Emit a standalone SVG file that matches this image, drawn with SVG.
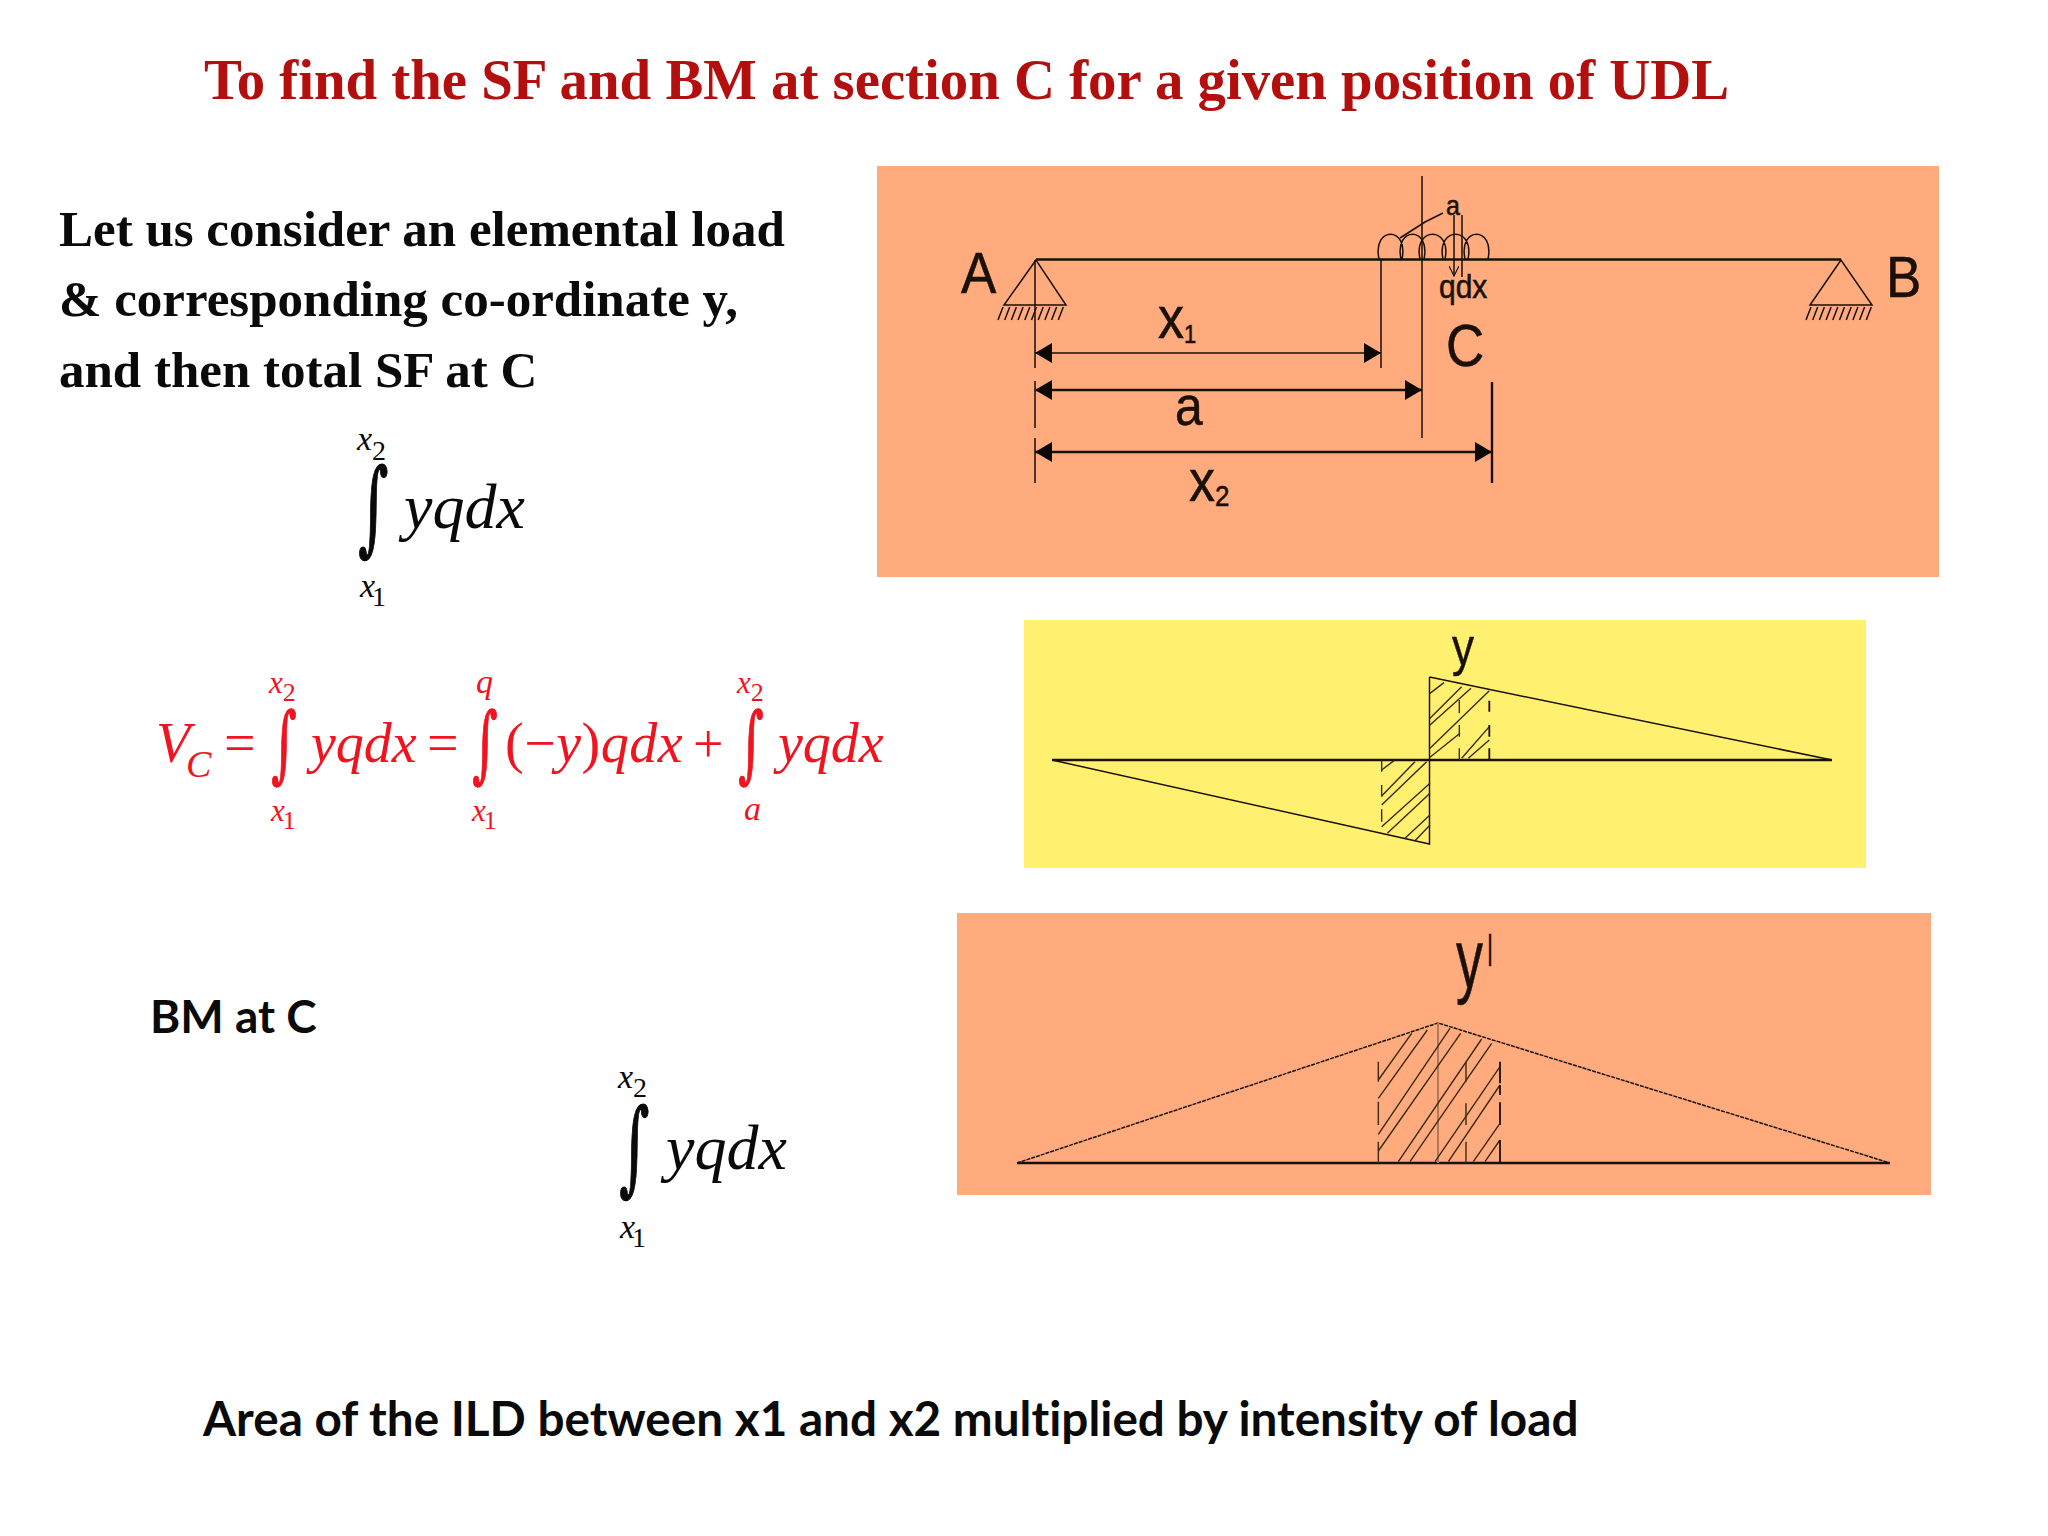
<svg xmlns="http://www.w3.org/2000/svg" width="2048" height="1536" viewBox="0 0 2048 1536">
<style>
.m{font-family:"Liberation Serif",serif;font-style:italic}
.r{font-family:"Liberation Serif",serif}
.i{font-family:"DejaVu Serif",serif}
.s{font-family:"Liberation Sans",sans-serif;fill:#1a1008;stroke:#1a1008;stroke-width:.5}
.red{fill:#f01420}
.lim{font-size:34px}
.sub{font-size:28px;font-style:normal}
.big{font-size:56px}
.big2{font-size:64px}
.b{font-family:"Liberation Serif",serif;font-weight:700;font-size:51px;fill:#0a0a0a}
.c{font-family:Lato,"Open Sans",sans-serif;font-weight:700;fill:#0a0a0a;font-variant-ligatures:none}
.ln{fill:none;stroke:#1a1008;stroke-width:1.5}
.th{fill:none;stroke:#1a1008;stroke-width:2.4}
.ht{fill:none;stroke:#3a2a10;stroke-width:4.200}
.dk{fill:none;stroke:#1a1008;stroke-width:5.500}
</style>
<defs>
<marker id="ah" markerUnits="userSpaceOnUse" markerWidth="18" markerHeight="20" refX="17" refY="10" orient="auto-start-reverse"><path d="M0 0L17 10L0 20z" fill="#0c0804"/></marker>
<marker id="oa" markerUnits="userSpaceOnUse" markerWidth="10" markerHeight="12" refX="5" refY="11" orient="0"><path d="M0 1L5 11L10 1" fill="none" stroke="#1a1008" stroke-width="1.2"/></marker>
</defs>
<rect width="2048" height="1536" fill="#fff"/>
<text id="title" x="204" y="99" font-family="Liberation Serif,serif" font-weight="700" font-size="56.800" fill="#b30f0f">To find the SF and BM at section C for a given position of UDL</text>
<g id="intro">
<text class="b" x="59" y="246">Let us consider an elemental load</text>
<text class="b" x="59" y="316">&amp; corresponding co-ordinate y,</text>
<text class="b" x="59" y="387">and then total SF at C</text>
</g>
<g id="integral-sf" fill="#0a0a0a">
<text class="m lim" x="357" y="450">x<tspan class="sub" dy="10">2</tspan></text>
<text class="i" transform="translate(358 542) scale(.75 1.32)" font-size="78" stroke="#0a0a0a" stroke-width="1">∫</text>
<text class="m big2" x="404" y="528">yqdx</text>
<text class="m lim" x="360" y="597">x<tspan class="sub" dy="9" dx="-3">1</tspan></text>
</g>
<g id="equation-vc" class="red">
<text class="m" x="156" y="762" font-size="56">V</text>
<text class="m" x="186" y="777" font-size="38">C</text>
<text class="r" x="224" y="762" font-size="56">=</text>
<text class="m lim" x="269" y="693" style="font-size:31px">x<tspan class="sub" dy="8" style="font-size:26px">2</tspan></text>
<text class="i" transform="translate(271 772) scale(.65 1.1)" font-size="76" stroke="#f01420" stroke-width="1">∫</text>
<text class="m lim" x="271" y="821" style="font-size:31px">x<tspan class="sub" dy="8" dx="-2" style="font-size:26px">1</tspan></text>
<text class="m big" x="311" y="762">yqdx</text>
<text class="r" x="427" y="762" font-size="56">=</text>
<text class="m lim" x="476" y="693">q</text>
<text class="i" transform="translate(472 772) scale(.65 1.1)" font-size="76" stroke="#f01420" stroke-width="1">∫</text>
<text class="m lim" x="472" y="821" style="font-size:31px">x<tspan class="sub" dy="8" dx="-2" style="font-size:26px">1</tspan></text>
<text class="m big" x="505" y="762" letter-spacing=".5"><tspan font-style="normal">(−</tspan>y<tspan font-style="normal">)</tspan>qdx</text>
<text class="r" x="693" y="762" font-size="54">+</text>
<text class="m lim" x="737" y="693" style="font-size:31px">x<tspan class="sub" dy="8" style="font-size:26px">2</tspan></text>
<text class="i" transform="translate(738 772) scale(.65 1.1)" font-size="76" stroke="#f01420" stroke-width="1">∫</text>
<text class="m lim" x="744" y="820">a</text>
<text class="m big" x="778" y="762">yqdx</text>
</g>
<g id="integral-bm" fill="#0a0a0a">
<text class="m lim" x="618" y="1088">x<tspan class="sub" dy="9">2</tspan></text>
<text class="i" transform="translate(619 1182) scale(.75 1.32)" font-size="78" stroke="#0a0a0a" stroke-width="1">∫</text>
<text class="m big2" x="666" y="1169">yqdx</text>
<text class="m lim" x="620" y="1238">x<tspan class="sub" dy="9" dx="-3">1</tspan></text>
</g>
<text id="bm-label" class="c" x="150" y="1033" font-size="46">BM at C</text>
<text id="conclusion" class="c" x="203" y="1436" font-size="47.700">Area of the ILD between x1 and x2 multiplied by intensity of load</text>

<g id="beam-panel">
<rect x="877" y="166" width="1062" height="411" fill="#ffab7d"/>
<path class="th" d="M1036 259.500H1841"/>
<g id="support-a">
<path class="ln" d="M1036 260L1004 305H1066z"/>
<path class="ln" stroke-width="1.200" d="M998 320l5-13m1.700 13l5-13m1.700 13l5-13m1.700 13l5-13m1.700 13l5-13m1.700 13l5-13m1.700 13l5-13m1.700 13l5-13m1.700 13l5-13m1.700 13l5-13"/>
</g>
<g id="support-b">
<path class="ln" d="M1841 260L1810 305H1872z"/>
<path class="ln" stroke-width="1.200" d="M1806 320l5-13m1.700 13l5-13m1.700 13l5-13m1.700 13l5-13m1.700 13l5-13m1.700 13l5-13m1.700 13l5-13m1.700 13l5-13m1.700 13l5-13m1.700 13l5-13"/>
</g>
<g id="udl">
<path class="ln" stroke-width="1.200" d="M1379 259C1372 226 1409 226 1402 259M1401 259C1394 226 1431 226 1424 259M1420 259C1413 226 1452 226 1445 259M1443 259C1436 226 1475 226 1468 259M1465 259C1458 226 1495 226 1488 259M1400 238L1425 222 1443 213"/>
<path class="ln" stroke-width="1.500" d="M1454 215V276" marker-end="url(#oa)"/>
<path class="ln" d="M1462 215V277"/>
</g>
<g id="dimensions">
<path class="ln" d="M1035 260V368M1035 381V428M1035 438V483M1381 260V368M1422 176V438"/>
<path class="th" d="M1492 382V483"/>
<path class="ln" stroke="#5a4030" d="M1035 353H1381" marker-start="url(#ah)" marker-end="url(#ah)"/>
<path class="th" d="M1035 390H1422" marker-start="url(#ah)" marker-end="url(#ah)"/>
<path class="th" d="M1035 452H1492" marker-start="url(#ah)" marker-end="url(#ah)"/>
</g>
<text class="s" transform="translate(961 293) scale(1 1.08)" font-size="53">A</text>
<text class="s" transform="translate(1886 297) scale(1 1.08)" font-size="53">B</text>
<text class="s" transform="translate(1446 366) scale(1 1.12)" font-size="53">C</text>
<text class="s" transform="translate(1158 338) scale(1 1.15)" font-size="52">x<tspan font-size="22" dy="4">1</tspan></text>
<text class="s" transform="translate(1175 425) scale(1 1.12)" font-size="50">a</text>
<text class="s" transform="translate(1189 501) scale(1 1.15)" font-size="52">x<tspan font-size="26" dy="4">2</tspan></text>
<text class="s" transform="translate(1446 215) scale(1 1.1)" font-size="25">a</text>
<text class="s" transform="translate(1439 298) scale(1 1.1)" font-size="30">qdx</text>
</g>

<g id="sf-panel">
<rect x="1024" y="620" width="842" height="248" fill="#fff16f"/>
<path class="th" stroke-width="2" d="M1052 760H1832"/>
<path class="ln" d="M1429.500 677V844L1052 760M1429.500 677L1832 760"/>
<g transform="translate(1370 670) scale(.3333)">
<path class="ht" d="M180 70L222 38M180 145L275 50M180 165L303 55M180 235L358 62M180 262L270 190M275 265L358 170M295 265L358 210M35 300L72 272M35 378L135 275M35 405L170 275M35 470L180 340M52 490L180 370M105 505L180 435M135 512L180 465"/>
<path class="ht" d="M35 270V305M35 345V380M35 418V455M268 90V130M268 165V200M268 235V268"/>
<path class="dk" d="M358 92V125M358 165V200M358 235V268"/>
</g>
<text class="s" x="1452" y="665" font-size="54" textLength="22" lengthAdjust="spacingAndGlyphs">y</text>
</g>

<g id="bm-panel">
<rect x="957" y="913" width="974" height="282" fill="#ffab7d"/>
<path class="th" d="M1017 1163H1890"/>
<path class="ln" stroke-dasharray="4 1" stroke-width="2.200" d="M1017 1163L1438 1023L1890 1163"/>
<path fill="none" stroke="#b07a5a" stroke-width="2" d="M1438 1023V1163"/>
<g transform="translate(1370 1015) scale(.3333)">
<path class="ht" d="M25 195L125 55M25 250L172 45M25 358L240 40M25 408L272 55M85 440L335 72M120 440L365 85M195 440L390 155M235 440L390 210M310 440L390 325M345 440L390 375"/>
<path class="ht" d="M25 140V200M25 260V330M25 380V445M288 140V200M288 265V330M288 380V445"/>
<path class="dk" d="M390 140V205M390 210V240M390 262V330M390 375V445"/>
</g>
<text class="s" x="1456" y="988" font-size="84" textLength="27" lengthAdjust="spacingAndGlyphs">y</text>
<text class="s" x="1487" y="966" font-size="46" textLength="6" lengthAdjust="spacingAndGlyphs">I</text>
</g>
</svg>
